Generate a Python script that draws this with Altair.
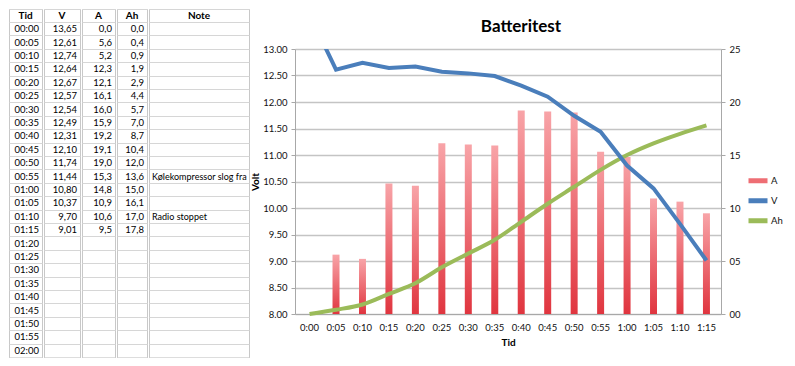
import altair as alt
import pandas as pd

# ---- data read from the spreadsheet / chart ----
tid_chart = ["0:00", "0:05", "0:10", "0:15", "0:20", "0:25", "0:30", "0:35",
             "0:40", "0:45", "0:50", "0:55", "1:00", "1:05", "1:10", "1:15"]
volt = [13.65, 12.61, 12.74, 12.64, 12.67, 12.57, 12.54, 12.49,
        12.31, 12.10, 11.74, 11.44, 10.80, 10.37, 9.70, 9.01]
amp = [0.0, 5.6, 5.2, 12.3, 12.1, 16.1, 16.0, 15.9,
       19.2, 19.1, 19.0, 15.3, 14.8, 10.9, 10.6, 9.5]
amph = [0.0, 0.4, 0.9, 1.9, 2.9, 4.4, 5.7, 7.0,
        8.7, 10.4, 12.0, 13.6, 15.0, 16.1, 17.0, 17.8]
table_times = ["00:00", "00:05", "00:10", "00:15", "00:20", "00:25", "00:30",
               "00:35", "00:40", "00:45", "00:50", "00:55", "01:00", "01:05",
               "01:10", "01:15", "01:20", "01:25", "01:30", "01:35", "01:40",
               "01:45", "01:50", "01:55", "02:00"]
notes = {11: "Kølekompressor slog fra", 14: "Radio stoppet"}
headers = ["Tid", "V", "A", "Ah", "Note"]

FONT = "Lato"

# ---- table (spreadsheet cells) ----
def fmt(v, d):
    return f"{v:.{d}f}".replace(".", ",")

rows = []
for i, t in enumerate(table_times):
    rows.append({
        "r": i + 1,
        "Tid": t,
        "V": fmt(volt[i], 2) if i < len(volt) else "",
        "A": fmt(amp[i], 1) if i < len(amp) else "",
        "Ah": fmt(amph[i], 1) if i < len(amph) else "",
        "Note": notes.get(i, ""),
    })
rows.insert(0, {"r": 0, **{h: h for h in headers}})
table_df = pd.DataFrame(rows)

ROW_H = 13.4
N_ROWS = len(table_df)
col_widths = {"Tid": 33, "V": 36, "A": 33, "Ah": 30, "Note": 100}
col_align = {"Tid": "right", "V": "right", "A": "right", "Ah": "right", "Note": "left"}

yrow = alt.Y("r:O",
             scale=alt.Scale(type="band", paddingInner=0, paddingOuter=0),
             axis=alt.Axis(grid=True, bandPosition=0, labels=False, ticks=False,
                           domain=False, title=None, gridColor="#d6d6d6",
                           gridWidth=1, minExtent=0, maxExtent=0,
                           labelPadding=0, offset=0))

def table_col(name):
    w = col_widths[name]
    base = alt.Chart(table_df)
    head = base.transform_filter("datum.r == 0").mark_text(
        font=FONT, fontSize=10, fontWeight="bold", align="center",
        color="#000000").encode(y=yrow, x=alt.value(w / 2), text=f"{name}:N")
    if col_align[name] == "right":
        body = base.transform_filter("datum.r > 0").mark_text(
            font=FONT, fontSize=9.5, align="right", dx=-3, color="#000000"
        ).encode(y=yrow, x=alt.value("width"), text=f"{name}:N")
    else:
        body = base.transform_filter("datum.r > 0").mark_text(
            font=FONT, fontSize=9, align="left", dx=3, color="#000000"
        ).encode(y=yrow, x=alt.value(0), text=f"{name}:N")
    return alt.layer(head, body).properties(
        width=w, height=ROW_H * N_ROWS,
        view=alt.ViewBackground(stroke="#c8c8c8", strokeWidth=1))

table = alt.hconcat(*[table_col(h) for h in headers], spacing=0)

# ---- chart ----
PLOT_W = 426
df = pd.DataFrame({"Tid": tid_chart, "V": volt, "A": amp, "Ah": amph})

xenc = alt.X("Tid:N", sort=tid_chart,
             scale=alt.Scale(type="band", paddingInner=0, paddingOuter=0.05),
             axis=alt.Axis(title="Tid", labelAngle=0, ticks=False, labelPadding=8,
                           labelFontSize=9.5, labelColor="#111111",
                           domainColor="#a8a8a8", titleFontSize=10,
                           titleFontWeight="bold", titlePadding=6, grid=False))

right_axis = alt.Axis(orient="right", title=None, format="02d",
                      values=[0, 5, 10, 15, 20, 25], grid=False,
                      labelFontSize=9.5, labelColor="#111111", tickColor="#a8a8a8",
                      tickSize=4, labelPadding=4, domainColor="#a8a8a8")
right_scale = alt.Scale(domain=[0, 25])

grad = alt.Gradient(
    gradient="linear",
    stops=[alt.GradientStop(color="#F8A4A8", offset=0),
           alt.GradientStop(color="#E0353F", offset=1)],
    x1=0, x2=0, y1=0, y2=1)

series_scale = alt.Scale(domain=["A", "V", "Ah"],
                         range=["#EE6E74", "#4A7EBB", "#9BBB59"])
legend = alt.Legend(title=" ", titleFontSize=1, titlePadding=161,
                    orient="right", offset=5, padding=0,
                    symbolType="stroke", symbolSize=361, symbolStrokeWidth=5,
                    clipHeight=19.5,
                    labelFontSize=9.5, labelOffset=1, rowPadding=0,
                    labelColor="#111111")

bars = alt.Chart(df).mark_bar(size=7, fill=grad).encode(
    x=xenc,
    y=alt.Y("A:Q", scale=right_scale, axis=right_axis),
)
ah_line = alt.Chart(df).transform_calculate(series="'Ah'").mark_line(
    strokeWidth=4, interpolate="monotone").encode(
    x=xenc,
    y=alt.Y("Ah:Q", scale=right_scale, axis=right_axis),
    color=alt.Color("series:N", scale=series_scale, legend=legend),
)
right_layer = alt.layer(bars, ah_line)

v_line = alt.Chart(df).transform_calculate(series="'V'").mark_line(
    strokeWidth=4, clip=True).encode(
    x=xenc,
    y=alt.Y("V:Q", scale=alt.Scale(domain=[8, 13]),
            axis=alt.Axis(orient="left", title="Volt", format=".2f",
                          values=[8, 8.5, 9, 9.5, 10, 10.5, 11, 11.5, 12, 12.5, 13],
                          grid=True, gridColor="#c4c4c4", gridWidth=1.3,
                          labelFontSize=9.5, labelColor="#111111",
                          tickColor="#a8a8a8", tickSize=4, labelPadding=4,
                          domainColor="#a8a8a8", titleFontSize=10,
                          titleFontWeight="bold", titlePadding=2)),
    color=alt.Color("series:N", scale=series_scale, legend=legend),
)

chart = alt.layer(right_layer, v_line).resolve_scale(y="independent").properties(
    width=PLOT_W, height=265,
    view=alt.ViewBackground(stroke=None),
)

# chart title placed in a thin strip above the plot (title hangs below the strip)
title_strip = alt.Chart(pd.DataFrame({"t": [0]})).mark_point(
    opacity=0, size=0, strokeWidth=0).encode(
    x=alt.value(0), y=alt.value(0)
).properties(
    width=PLOT_W, height=1,
    title=alt.TitleParams(text="Batteritest", orient="bottom", offset=9,
                          fontSize=17, fontWeight="bold", font=FONT,
                          color="#000000", anchor="middle", dx=13),
    view=alt.ViewBackground(stroke=None),
)

inner = alt.vconcat(title_strip, chart, spacing=9)

final = alt.hconcat(table, inner, spacing=0).properties(padding=0).configure(
    font=FONT, background="#ffffff"
).configure_axis(labelFont=FONT, titleFont=FONT)

final.save("out.html", embed_options={"renderer": "svg", "actions": False})
